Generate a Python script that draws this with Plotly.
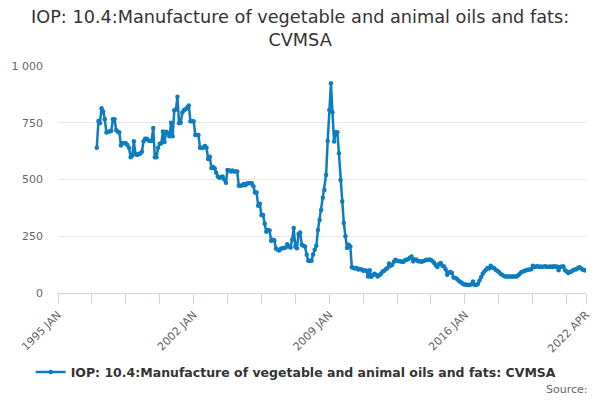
import pandas as pd
import plotly.graph_objects as go

start_month = "1997-01-01"
values_1997 = [640, 758, 748, 814, 800, 765, 707, 710, 712, 715, 765, 765]
values_1998 = [718, 710, 708, 650, 660, 660, 660, 652, 640, 598, 605, 668]
values_1999 = [612, 608, 612, 615, 622, 668, 680, 680, 672, 670, 670, 727]
values_2000 = [598, 598, 640, 657, 660, 712, 665, 710, 705, 690, 750, 690]
values_2001 = [805, 808, 864, 748, 750, 795, 805, 810, 817, 826, 757, 757]
values_2002 = [757, 696, 696, 696, 640, 640, 640, 648, 640, 590, 600, 551]
values_2003 = [555, 550, 530, 513, 508, 510, 513, 500, 486, 542, 540, 535]
values_2004 = [540, 535, 535, 535, 472, 472, 474, 480, 475, 482, 484, 484]
values_2005 = [484, 470, 443, 443, 384, 393, 344, 344, 305, 270, 278, 275]
values_2006 = [230, 235, 232, 196, 190, 187, 195, 197, 198, 200, 215, 205]
values_2007 = [200, 235, 286, 205, 197, 260, 267, 213, 208, 205, 168, 142]
values_2008 = [142, 142, 170, 190, 208, 278, 322, 366, 420, 454, 520, 670]
values_2009 = [806, 924, 796, 667, 708, 708, 616, 498, 403, 308, 250, 198]
values_2010 = [213, 205, 113, 110, 108, 110, 104, 106, 104, 98, 100, 98]
values_2011 = [73, 100, 72, 78, 85, 80, 73, 78, 85, 95, 98, 105]
values_2012 = [110, 130, 120, 125, 138, 147, 142, 140, 140, 138, 138, 145]
values_2013 = [147, 150, 155, 161, 140, 148, 147, 140, 140, 138, 140, 142]
values_2014 = [147, 145, 148, 145, 140, 132, 122, 115, 128, 132, 120, 118]
values_2015 = [105, 80, 90, 92, 88, 68, 66, 63, 55, 50, 45, 38]
values_2016 = [37, 36, 35, 35, 38, 51, 36, 35, 40, 55, 70, 85]
values_2017 = [95, 102, 110, 108, 120, 112, 110, 102, 98, 92, 85, 80]
values_2018 = [76, 73, 73, 73, 73, 73, 73, 73, 73, 78, 85, 92]
values_2019 = [95, 98, 100, 102, 104, 105, 120, 115, 117, 118, 114, 117]
values_2020 = [115, 117, 118, 114, 116, 117, 115, 118, 116, 117, 100, 115]
values_2021 = [117, 117, 100, 95, 88, 92, 95, 100, 103, 105, 110, 113]
values_2022 = [108, 102, 100, 100]

values = (values_1997 + values_1998 + values_1999 + values_2000 + values_2001 +
          values_2002 + values_2003 + values_2004 + values_2005 + values_2006 +
          values_2007 + values_2008 + values_2009 + values_2010 + values_2011 +
          values_2012 + values_2013 + values_2014 + values_2015 + values_2016 +
          values_2017 + values_2018 + values_2019 + values_2020 + values_2021 +
          values_2022)
dates = pd.date_range(start_month, periods=len(values), freq="MS")

x_tick_dates = ["1995-01-01", "1996-10-01", "1998-07-01", "2000-04-01", "2002-01-01",
                "2003-10-01", "2005-07-01", "2007-04-01", "2009-01-01", "2010-10-01",
                "2012-07-01", "2014-04-01", "2016-01-01", "2017-10-01", "2019-07-01",
                "2021-04-01", "2022-04-01"]
x_tick_text = ["1995 JAN", "", "", "", "2002 JAN", "", "", "", "2009 JAN", "", "", "",
               "2016 JAN", "", "", "", "2022 APR"]
y_tick_vals = [0, 250, 500, 750, 1000]
y_tick_text = ["0", "250", "500", "750", "1 000"]

title_text = "IOP: 10.4:Manufacture of vegetable and animal oils and fats:<br>CVMSA"
series_name = "IOP: 10.4:Manufacture of vegetable and animal oils and fats: CVMSA"
color = "#0d7cc1"

fig = go.Figure()
fig.add_trace(go.Scatter(
    x=dates, y=values, mode="lines+markers", name=series_name,
    line=dict(color=color, width=2.5),
    marker=dict(color=color, size=4.5),
))

fig.update_layout(
    width=600, height=400,
    paper_bgcolor="white", plot_bgcolor="white",
    font=dict(family="DejaVu Sans", color="#666666", size=11),
    margin=dict(l=58, r=14, t=66, b=107, autoexpand=False),
    showlegend=True,
    legend=dict(orientation="h", x=0.451, xanchor="center", y=-0.35, yanchor="middle",
                font=dict(size=12.5, color="#333333", family="DejaVu Sans", weight="bold"),
                bgcolor="rgba(0,0,0,0)"),
    xaxis=dict(type="date", range=["1995-01-01", "2022-04-01"],
               tickvals=x_tick_dates, ticktext=x_tick_text, tickangle=-45,
               showgrid=False, showline=True, linecolor="#ccd6eb", linewidth=1,
               ticks="outside", ticklen=10, tickcolor="#ccd6eb", tickwidth=1,
               tickfont=dict(size=11, color="#666666"), zeroline=False,
               automargin=False),
    yaxis=dict(range=[0, 1000], tickvals=y_tick_vals, ticktext=y_tick_text,
               showgrid=True, gridcolor="#e6e6e6", gridwidth=1, zeroline=False,
               showline=False, ticks="", ticklabelstandoff=14,
               tickfont=dict(size=11, color="#666666"), automargin=False),
    annotations=[
        dict(text=title_text, xref="paper", yref="paper", x=0.458, y=1.268,
             xanchor="center", yanchor="top", showarrow=False, align="center",
             font=dict(size=17.7, color="#333333", family="DejaVu Sans")),
        dict(text="Source:", xref="paper", yref="paper", x=1.008, y=-0.425,
             xanchor="right", yanchor="middle", showarrow=False,
             font=dict(size=11, color="#666666")),
    ],
)

fig.write_html("out.html", config={"displayModeBar": False},
               post_script="document.body.style.margin='0';")
